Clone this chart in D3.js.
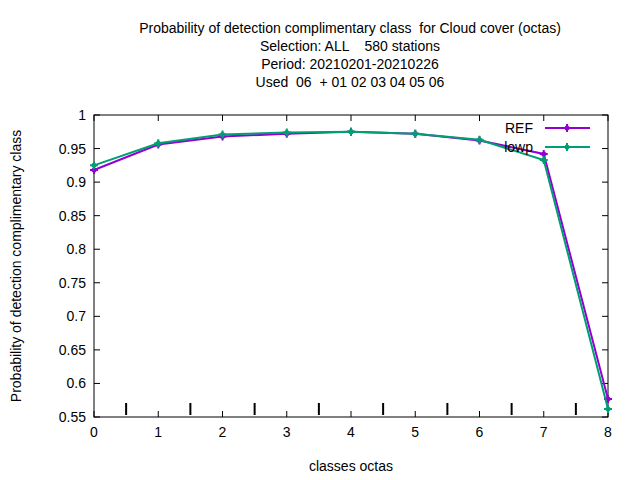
<!DOCTYPE html><html><head><script src="https://cdn.jsdelivr.net/npm/d3@7"></script>
<style>body{margin:0;background:#fff}text{font-family:"Liberation Sans",Arial,sans-serif;font-size:14px;white-space:pre}</style></head><body>
<svg id="c" width="640" height="480"></svg>
<script>
const classes=[0,1,2,3,4,5,6,7,8];
const refVals=[0.918,0.956,0.968,0.972,0.975,0.972,0.962,0.942,0.577];
const lowpVals=[0.925,0.958,0.971,0.974,0.975,0.972,0.963,0.933,0.562];
const halfMarks=[0.5,1.5,2.5,3.5,4.5,5.5,6.5,7.5];
const titleLines=["Probability of detection complimentary class  for Cloud cover (octas)","Selection: ALL    580 stations","Period: 20210201-20210226","Used  06  + 01 02 03 04 05 06"];
const svg=d3.select("#c");
const L=94,R=608,T=115,B=417;
const x=d3.scaleLinear().domain([0,8]).range([L,R]);
const y=d3.scaleLinear().domain([0.55,1]).range([B,T]);
svg.append("rect").attr("x",L).attr("y",T).attr("width",R-L).attr("height",B-T).attr("fill","none").attr("stroke","#000");
const yt=d3.range(0.55,1.0001,0.05);
yt.forEach(v=>{svg.append("line").attr("x1",L).attr("x2",L+6).attr("y1",y(v)).attr("y2",y(v)).attr("stroke","#000");
svg.append("line").attr("x1",R).attr("x2",R-6).attr("y1",y(v)).attr("y2",y(v)).attr("stroke","#000");
svg.append("text").attr("x",L-8).attr("y",y(v)+5).attr("text-anchor","end").text(d3.format("")(+v.toFixed(2)));});
classes.forEach(v=>{svg.append("line").attr("x1",x(v)).attr("x2",x(v)).attr("y1",B).attr("y2",B-6).attr("stroke","#000");
svg.append("line").attr("x1",x(v)).attr("x2",x(v)).attr("y1",T).attr("y2",T+6).attr("stroke","#000");
svg.append("text").attr("x",x(v)).attr("y",B+20).attr("text-anchor","middle").text(v);});
halfMarks.forEach(v=>svg.append("line").attr("x1",x(v)).attr("x2",x(v)).attr("y1",B-14).attr("y2",B-2).attr("stroke","#000").attr("stroke-width",2));
titleLines.forEach((t,i)=>svg.append("text").attr("x",350).attr("y",33+i*18).attr("text-anchor","middle").attr("xml:space","preserve").text(t));
svg.append("text").attr("x",351).attr("y",471).attr("text-anchor","middle").text("classes octas");
svg.append("text").attr("transform","translate(21,266) rotate(-90)").attr("text-anchor","middle").text("Probability of detection complimentary class");
const series=[{n:"REF",v:refVals,c:"#9400d3"},{n:"lowp",v:lowpVals,c:"#009e73"}];
const line=d3.line().x((d,i)=>x(classes[i])).y(d=>y(d));
series.forEach((s,k)=>{
 svg.append("path").attr("d",line(s.v)).attr("fill","none").attr("stroke",s.c).attr("stroke-width",2);
 s.v.forEach((d,i)=>{const g=svg.append("g").attr("transform",`translate(${x(classes[i])},${y(d)})`);
  g.append("path").attr("d","M-4,0H4M0,-4V4").attr("stroke",s.c).attr("stroke-width",2);
  g.append("circle").attr("r",2.5).attr("fill",s.c);});
 const ly=128+k*19;
 svg.append("text").attr("x",533).attr("y",ly+5).attr("text-anchor","end").text(s.n);
 svg.append("line").attr("x1",545).attr("x2",590).attr("y1",ly).attr("y2",ly).attr("stroke",s.c).attr("stroke-width",2);
 const g=svg.append("g").attr("transform",`translate(567,${ly})`);
 g.append("path").attr("d","M-4,0H4M0,-4V4").attr("stroke",s.c).attr("stroke-width",2);
 g.append("circle").attr("r",2.5).attr("fill",s.c);
});
</script></body></html>
